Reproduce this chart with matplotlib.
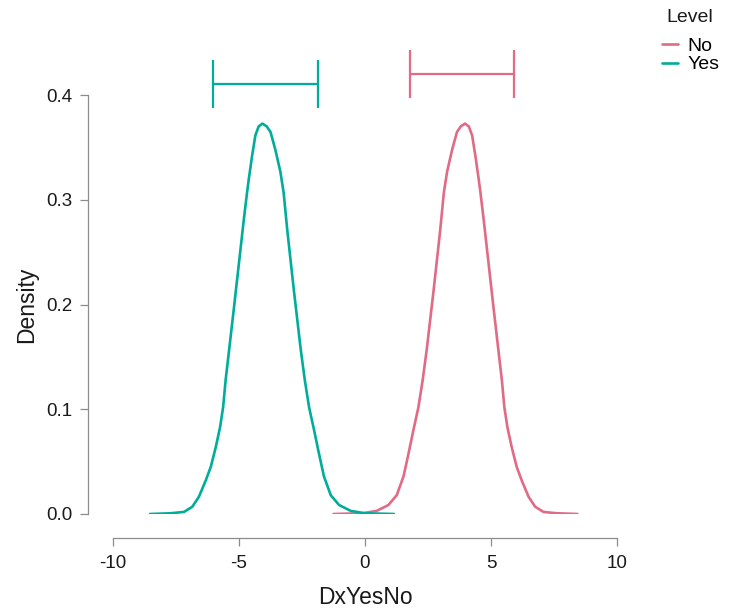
import numpy as np
import matplotlib
matplotlib.use("Agg")
import matplotlib.pyplot as plt

plt.rcParams['font.family'] = ['Liberation Sans', 'DejaVu Sans']

# Density curves
yes_x = [-8.53, -7.71, -7.18, -6.85, -6.59, -6.32, -6.12, -5.92, -5.75, -5.63,
         -5.53, -5.40, -5.20, -5.00, -4.80, -4.68, -4.61, -4.48, -4.35, -4.22,
         -4.07, -3.90, -3.75, -3.56, -3.36, -3.23, -3.08, -2.82, -2.55, -2.39,
         -2.22, -2.02, -1.83, -1.63, -1.36, -1.03, -0.57, 0.00, 1.15]
yes_y = [0.000, 0.0007, 0.002, 0.007, 0.0165, 0.032, 0.045, 0.064, 0.083, 0.102,
         0.128, 0.155, 0.197, 0.240, 0.283, 0.307, 0.320, 0.342, 0.3615, 0.370,
         0.3727, 0.370, 0.3647, 0.348, 0.327, 0.307, 0.270, 0.213, 0.157, 0.128,
         0.102, 0.080, 0.058, 0.036, 0.018, 0.0086, 0.003, 0.0007, 0.000]

no_x = [-1.25, -0.10, 0.47, 0.93, 1.26, 1.53, 1.73, 1.92, 2.12, 2.29,
        2.45, 2.72, 2.98, 3.13, 3.26, 3.46, 3.65, 3.80, 3.97, 4.12,
        4.25, 4.38, 4.51, 4.58, 4.70, 4.90, 5.10, 5.30, 5.43, 5.53,
        5.65, 5.82, 6.02, 6.22, 6.49, 6.75, 7.08, 7.61, 8.43]
no_y = [0.000, 0.0007, 0.003, 0.0086, 0.018, 0.036, 0.058, 0.080, 0.102, 0.128,
        0.157, 0.213, 0.270, 0.307, 0.327, 0.348, 0.3647, 0.370, 0.3727, 0.370,
        0.3615, 0.342, 0.320, 0.307, 0.283, 0.240, 0.197, 0.155, 0.128, 0.102,
        0.083, 0.064, 0.045, 0.032, 0.0165, 0.007, 0.002, 0.0007, 0.000]

# Credible intervals (lower, upper)
yes_ci = (-6.02, -1.87)
no_ci = (1.79, 5.91)

levels = ['No', 'Yes']
col_no = '#E16A86'
col_yes = '#00AD9A'

fig = plt.figure(figsize=(7.35, 6.09), dpi=100)
ax = fig.add_axes([113 / 735, 95 / 609, 504 / 735, 419 / 609])

l_no, = ax.plot(no_x, no_y, color=col_no, lw=1.9, solid_capstyle='round',
                solid_joinstyle='round', zorder=3)
l_yes, = ax.plot(yes_x, yes_y, color=col_yes, lw=1.9, solid_capstyle='round',
                 solid_joinstyle='round', zorder=3)

# interval bars above the curves
for ci, yl, c in [(no_ci, 0.4198, col_no), (yes_ci, 0.4105, col_yes)]:
    mid = (ci[0] + ci[1]) / 2
    ax.errorbar([mid], [yl], xerr=[[mid - ci[0]], [ci[1] - mid]], fmt='none',
                ecolor=c, elinewidth=1.6, capsize=17, capthick=1.6, clip_on=False)

ax.set_xlim(-10, 10)
ax.set_ylim(0, 0.4)
ax.set_xticks([-10, -5, 0, 5, 10])
ax.set_xticklabels(['-10', '-5', '0', '5', '10'])
ax.set_yticks([0, 0.1, 0.2, 0.3, 0.4])
ax.set_yticklabels(['0.0', '0.1', '0.2', '0.3', '0.4'])

for s in ['top', 'right']:
    ax.spines[s].set_visible(False)
ax.spines['left'].set_position(('outward', 18))
ax.spines['bottom'].set_position(('outward', 17.3))
for s in ['left', 'bottom']:
    ax.spines[s].set_color('#8c8c8c')
    ax.spines[s].set_linewidth(0.9)
ax.tick_params(axis='both', colors='#8c8c8c', length=6, width=0.9,
               labelsize=13.5, labelcolor='#1a1a1a')
ax.tick_params(axis='x', pad=6)
ax.tick_params(axis='y', pad=5)

ax.set_xlabel('DxYesNo', fontsize=16.5, color='#1a1a1a', labelpad=10)
ax.set_ylabel('Density', fontsize=16.5, color='#1a1a1a', labelpad=6)

# legend: title placed separately so the gap matches
fig.text(690 / 735, 1 - 17 / 609, 'Level', ha='center', va='center',
         fontsize=14, color='#1a1a1a')
leg = fig.legend([l_no, l_yes], levels, loc='upper left',
                 bbox_to_anchor=(662 / 735, 1 - 37 / 609), frameon=False,
                 fontsize=14, handlelength=0.82, handletextpad=0.5,
                 labelspacing=0.06, borderaxespad=0, borderpad=0)

fig.savefig('out.png', dpi=100)
